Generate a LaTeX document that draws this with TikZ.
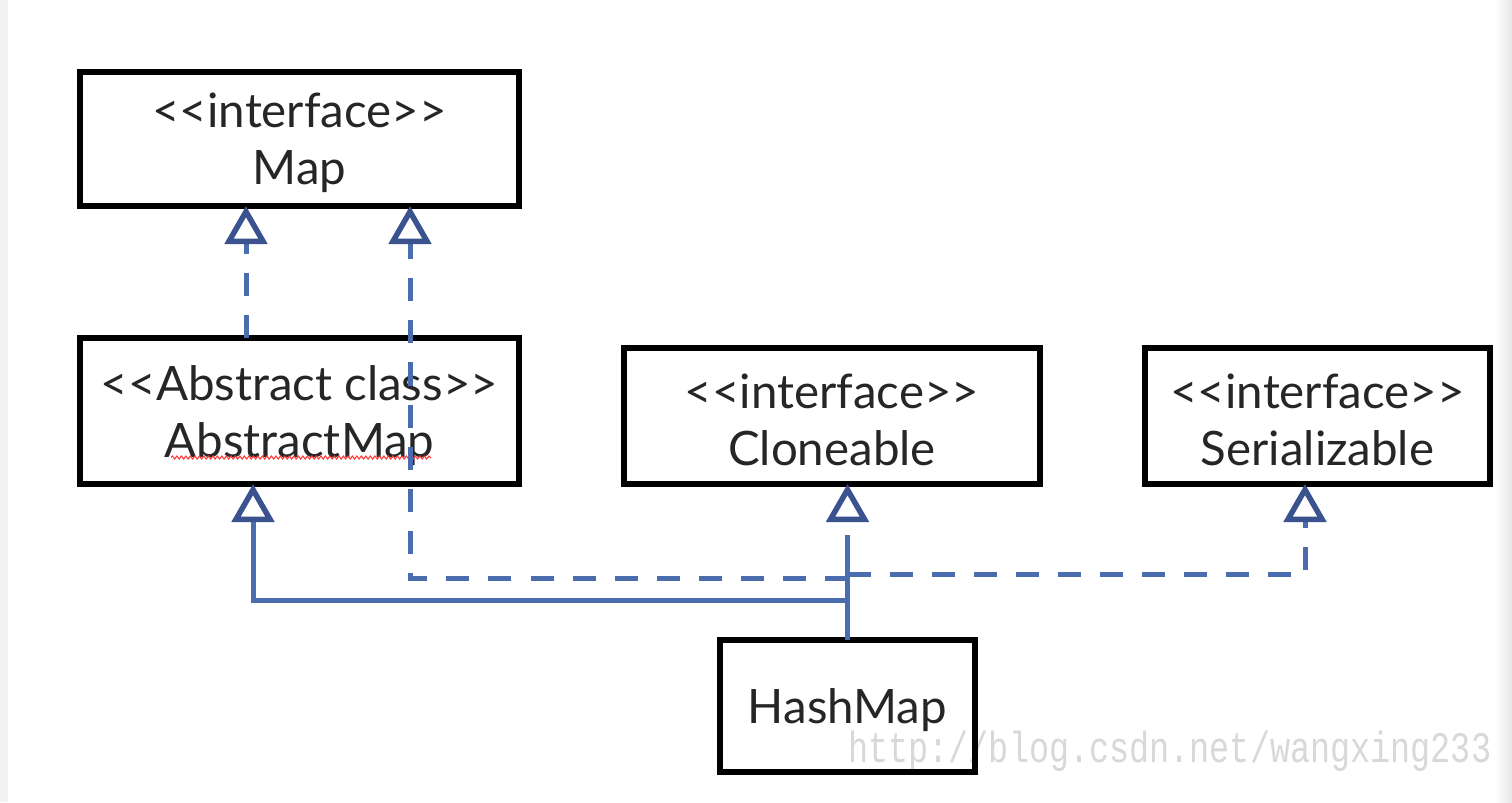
\documentclass[tikz,border=0pt]{standalone}
\usepackage{fontspec}
\setmainfont{Lato}
\newfontfamily\wmfont{Liberation Mono}
\usetikzlibrary{arrows.meta,decorations.pathmorphing}
\definecolor{lineblue}{RGB}{76,108,176}
\definecolor{tipblue}{RGB}{58,82,142}
\definecolor{wmgray}{RGB}{216,216,216}
\tikzset{
  umlbox/.style={draw=black, line width=0.11cm, outer sep=0pt, inner sep=0pt},
  umltext/.style={align=center, inner sep=0pt, font=\fontsize{27}{32.5}\selectfont, text=black!85},
  realize/.style={draw=lineblue, line width=0.1cm, dash pattern=on 0.46cm off 0.38cm},
  inherit/.style={draw=lineblue, line width=0.1cm},
  hollow/.style={-{Triangle[open, length=0.76cm, width=0.84cm, color=tipblue, line width=0.11cm]}},
}
\begin{document}
\begin{tikzpicture}
\useasboundingbox (0,0) rectangle (30.24,-16.04);
\fill[white] (0,0) rectangle (30.24,-16.04);
\fill[black!5] (0,0) rectangle (0.16,-16.04);
\shade[left color=white, right color=black!10] (29.9,0) rectangle (30.24,-16.04);

% watermark
\node[text=wmgray, anchor=west, inner sep=0] (wm) at (16.96,-15.02)
  {\scalebox{1}[1.3]{\wmfont\fontsize{19.05}{20}\selectfont http://blog.csdn.net/wangxing233}};

% boxes
\node[umlbox, minimum width=8.78cm, minimum height=2.68cm] (map) at (5.99,-2.78) {};
\node[umlbox, minimum width=8.78cm, minimum height=2.92cm] (am) at (5.99,-8.22) {};
\node[umlbox, minimum width=8.32cm, minimum height=2.72cm] (cl) at (16.64,-8.32) {};
\node[umlbox, minimum width=6.9cm, minimum height=2.72cm] (se) at (26.35,-8.32) {};
\node[umlbox, minimum width=5.1cm, minimum height=2.64cm] (hm) at (16.95,-14.12) {};

% texts
\node[umltext] (mapt) at ([yshift=-0.08cm]map.center) {<{}<interface>{}>\\Map};
\node[umltext] (amt) at ([yshift=-0.1cm]am.center) {<{}<Abstract class>{}>\\AbstractMap};
\node[umltext] (clt) at ([yshift=-0.08cm]cl.center) {<{}<interface>{}>\\Cloneable};
\node[umltext] (set) at ([yshift=-0.08cm]se.center) {<{}<interface>{}>\\Serializable};
\node[umltext] (hmt) at ([yshift=-0.08cm]hm.center) {HashMap};

% spell-check squiggle
\draw[red!80, line width=0.6pt, decorate, decoration={snake, amplitude=0.03cm, segment length=0.09cm}]
  (3.42,-9.15) -- (8.62,-9.15);

% junction points
\coordinate (jsolid) at (hm.north |- 0,-12.0);
\coordinate (jmap) at (hm.north |- 0,-11.56);
\coordinate (jser) at (hm.north |- 0,-11.48);
\coordinate (jcl) at (hm.north |- 0,-11.06);

% generalization HashMap -> AbstractMap
\draw[inherit, hollow] (hm.north) -- (jsolid) -| (5.06,0 |- am.south);
\draw[inherit] (jsolid) -- (jcl);
% realization AbstractMap -> Map
\draw[realize, hollow] (4.92,0 |- am.north) -- (4.92,0 |- map.south);
% realization HashMap -> Map
\draw[realize, hollow] (jmap) -| (8.2,0 |- map.south);
% realization HashMap -> Cloneable
\draw[realize, hollow, dash phase=0.1cm] (jcl) -- (hm.north |- cl.south);
% realization HashMap -> Serializable
\draw[realize, hollow] (jser) -| (26.1,0 |- se.south);
\end{tikzpicture}
\end{document}
